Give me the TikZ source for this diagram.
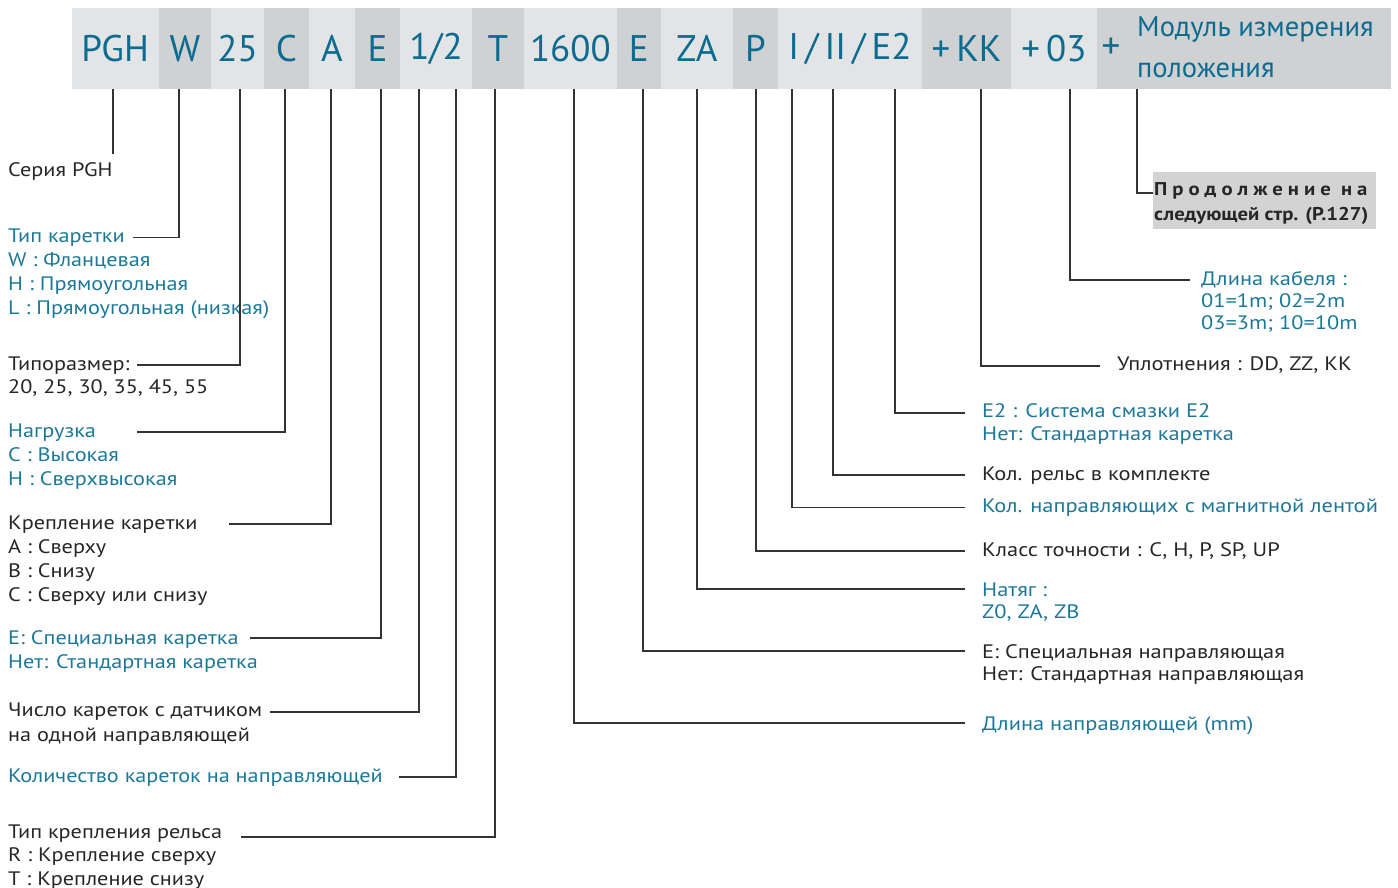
\documentclass[tikz,border=0pt]{standalone}
\usepackage{fontspec}
\setmainfont{PT Sans}
\newfontfamily\topfont{PT Sans}
\newfontfamily\bodyfont[FakeStretch=1.14]{PT Sans}
\newfontfamily\narrowfont[FakeStretch=1.15]{PT Sans}
\newfontfamily\spacedfont[FakeStretch=1.12,LetterSpace=27]{PT Sans}
\newfontfamily\boxfont[FakeStretch=1.12]{PT Sans}
\definecolor{segA}{HTML}{E3E4E6}
\definecolor{segB}{HTML}{D0D1D3}
\definecolor{hblue}{HTML}{0B6C90}
\definecolor{tblue}{HTML}{1C7898}
\definecolor{tblack}{HTML}{262626}
\definecolor{lineg}{HTML}{333333}
\definecolor{boxgray}{HTML}{D3D3D3}
\tikzset{
  seg/.style={inner sep=0, minimum height=81, text=hblue, font=\topfont\fontsize{37}{40}\selectfont},
  segl/.style={seg, fill=segA},
  segd/.style={seg, fill=segB},
  lbl/.style={anchor=base west, inner sep=0, font=\bodyfont\fontsize{19.5}{24}\selectfont},
  lbk/.style={lbl, text=tblack},
  lbb/.style={lbl, text=tblue},
  rlbl/.style={anchor=base west, inner sep=0, font=\narrowfont\fontsize{19.5}{22}\selectfont},
  rbk/.style={rlbl, text=tblack},
  rbb/.style={rlbl, text=tblue},
  conn/.style={draw=lineg, line width=1.2},
}
\begin{document}
\begin{tikzpicture}[x=1pt,y=-1pt]
\useasboundingbox (0,0) rectangle (1398,888);
% top bar
\node[segl, minimum width=87.2] (s1) at (115.1,48.5) {PGH};
\node[segd, minimum width=52.3] (s2) at (184.85,48.5) {W};
\node[segl, minimum width=53] (s3) at (237.5,48.5) {25};
\node[segd, minimum width=45] (s4) at (286.5,48.5) {C};
\node[segl, minimum width=46] (s5) at (332,48.5) {A};
\node[segd, minimum width=45] (s6) at (377.5,48.5) {E};
\node[segl, minimum width=72] (s7) at (436,48.5) {1/2};
\node[segd, minimum width=52] (s8) at (498,48.5) {T};
\node[segl, minimum width=92.7] (s9) at (570.35,48.5) {1600};
\node[segd, minimum width=44.3] (s10) at (638.85,48.5) {E};
\node[segl, minimum width=72] (s11) at (697,48.5) {ZA};
\node[segd, minimum width=45] (s12) at (755.5,48.5) {P};
\node[segl, minimum width=144] (s13) at (850,48.5) {I\,/\,II\,/\,E2};
\node[segd, minimum width=89] (s14) at (966.5,48.5) {+\,KK};
\node[segl, minimum width=86] (s15) at (1054,48.5) {+\,03};
\node[segd, minimum width=294] (s16) at (1244,48.5) {};
\node[seg] (plus) at (1111,48.5) {+};
\node[anchor=base west, inner sep=0, text=hblue, font=\topfont\fontsize{28.5}{30}\selectfont] (mod1) at (1137,37) {Модуль измерения};
\node[anchor=base west, inner sep=0, text=hblue, font=\topfont\fontsize{28.5}{30}\selectfont] (mod2) at (1137,77.5) {положения};

% tick tops
\coordinate (tPGH) at (113,89);
\coordinate (tW) at (179,89);
\coordinate (t25) at (240,89);
\coordinate (tC) at (285,89);
\coordinate (tA) at (331,89);
\coordinate (tE) at (381,89);
\coordinate (tHa) at (419,89);
\coordinate (tHb) at (456,89);
\coordinate (tT) at (495,89);
\coordinate (tL) at (574,89);
\coordinate (tER) at (643,89);
\coordinate (tZA) at (697,89);
\coordinate (tP) at (756,89);
\coordinate (tI) at (792,89);
\coordinate (tII) at (833,89);
\coordinate (tE2) at (895,89);
\coordinate (tKK) at (981,89);
\coordinate (t03) at (1070,89);
\coordinate (tM) at (1137,89);

% ends
\coordinate (ePGH) at (113,154);
\coordinate (eW) at (133,237.5);
\coordinate (e25) at (137,365);
\coordinate (eC) at (137,432);
\coordinate (eA) at (229,524);
\coordinate (eE) at (250,638);
\coordinate (eHa) at (270,712);
\coordinate (eHb) at (399,777);
\coordinate (eT) at (241,837);
\coordinate (eL) at (965,723);
\coordinate (eER) at (965,651);
\coordinate (eZA) at (965,589);
\coordinate (eP) at (965,551);
\coordinate (eI) at (965,507.5);
\coordinate (eII) at (965,475);
\coordinate (eE2) at (965,413);
\coordinate (eKK) at (1100,366);
\coordinate (e03) at (1190,280);
\coordinate (eM) at (1153,193);

% continuation box
\node[anchor=north west, fill=boxgray, minimum width=223, minimum height=57, inner sep=0] (box) at (1153,172) {};
\node[anchor=base west, inner sep=0, text=tblack, font=\spacedfont\bfseries\fontsize{18.5}{20}\selectfont] (box1) at (1154,195) {Продолжение на};
\node[anchor=base west, inner sep=0, text=tblack, font=\boxfont\bfseries\fontsize{18.5}{20}\selectfont] (box2) at (1154,220) {следующей стр. (P.127)};

% left labels
\node[lbk] (a1) at (8,177) {Серия PGH};
\node[lbb] (b1) at (8,242.5) {Тип каретки};
\node[lbb] (b2) at (8,266.5) {W : Фланцевая};
\node[lbb] (b3) at (8,290.5) {H : Прямоугольная};
\node[lbb] (b4) at (8,314.5) {L : Прямоугольная (низкая)};
\node[lbk] (c1) at (8,370) {Типоразмер:};
\node[lbk] (c2) at (8,393.5) {20, 25, 30, 35, 45, 55};
\node[lbb] (d1) at (8,437) {Нагрузка};
\node[lbb] (d2) at (8,461) {C : Высокая};
\node[lbb] (d3) at (8,485) {H : Сверхвысокая};
\node[lbk] (f1) at (8,529) {Крепление каретки};
\node[lbk] (f2) at (8,553) {A : Сверху};
\node[lbk] (f3) at (8,577) {B : Снизу};
\node[lbk] (f4) at (8,601) {C : Сверху или снизу};
\node[lbb] (g1) at (8,644) {E: Специальная каретка};
\node[lbb] (g2) at (8,668.5) {Нет: Стандартная каретка};
\node[lbk] (h1) at (8,716.5) {Число кареток с датчиком};
\node[lbk] (h2) at (8,741.5) {на одной направляющей};
\node[lbb] (i1) at (8,782) {Количество кареток на направляющей};
\node[lbk] (j1) at (8,838) {Тип крепления рельса};
\node[lbk] (j2) at (8,861.5) {R : Крепление сверху};
\node[lbk] (j3) at (8,885) {T : Крепление снизу};

% right labels
\node[rbb] (k1) at (1201,285) {Длина кабеля :};
\node[rbb] (k2) at (1201,307) {01=1m; 02=2m};
\node[rbb] (k3) at (1201,329.5) {03=3m; 10=10m};
\node[rbk] (m1) at (1117,370) {Уплотнения : DD, ZZ, KK};
\node[rbb] (n1) at (982,417.5) {E2 : Система смазки E2};
\node[rbb] (n2) at (982,440) {Нет: Стандартная каретка};
\node[rbk] (o1) at (982,480) {Кол. рельс в комплекте};
\node[rbb] (p1) at (982,512.5) {Кол. направляющих с магнитной лентой};
\node[rbk] (q1) at (982,556.5) {Класс точности : C, H, P, SP, UP};
\node[rbb] (r1) at (982,596.5) {Натяг :};
\node[rbb] (r2) at (982,618.5) {Z0, ZA, ZB};
\node[rbk] (u1) at (982,658.5) {E: Специальная направляющая};
\node[rbk] (u2) at (982,680.5) {Нет: Стандартная направляющая};
\node[rbb] (v1) at (982,730.5) {Длина направляющей (mm)};

% connectors
\draw[conn] (tPGH) -- (ePGH);
\draw[conn] (tW) |- (eW);
\draw[conn] (t25) |- (e25);
\draw[conn] (tC) |- (eC);
\draw[conn] (tA) |- (eA);
\draw[conn] (tE) |- (eE);
\draw[conn] (tHa) |- (eHa);
\draw[conn] (tHb) |- (eHb);
\draw[conn] (tT) |- (eT);
\draw[conn] (tL) |- (eL);
\draw[conn] (tER) |- (eER);
\draw[conn] (tZA) |- (eZA);
\draw[conn] (tP) |- (eP);
\draw[conn] (tI) |- (eI);
\draw[conn] (tII) |- (eII);
\draw[conn] (tE2) |- (eE2);
\draw[conn] (tKK) |- (eKK);
\draw[conn] (t03) |- (e03);
\draw[conn] (tM) |- (eM);
\end{tikzpicture}
\end{document}
